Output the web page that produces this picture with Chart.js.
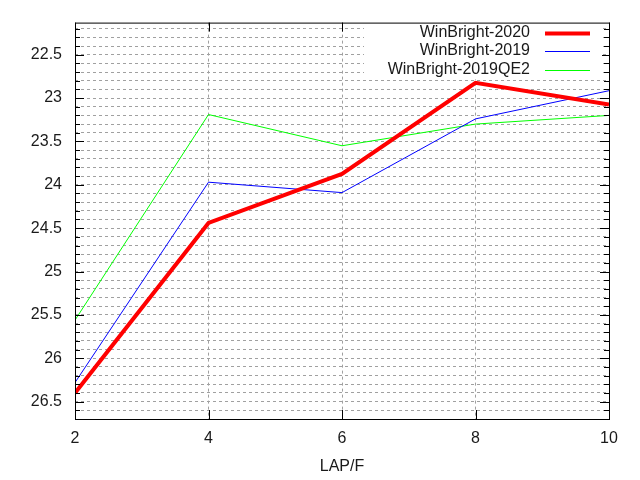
<!DOCTYPE html>
<html>
<head>
<meta charset="utf-8">
<script src="https://cdn.jsdelivr.net/npm/chart.js@4/dist/chart.umd.min.js"></script>
<style>
  html, body { margin: 0; padding: 0; background: #fff; }
</style>
</head>
<body>
<canvas id="lapChart" width="640" height="480"></canvas>
<script>
var lapF = [2, 4, 6, 8, 10];
var wb2020 = [26.40, 24.44, 23.875, 22.825, 23.075];
var wb2019 = [26.28, 23.97, 24.09, 23.24, 22.915];
var wb2019QE2 = [25.56, 23.19, 23.55, 23.30, 23.20];
var yMinorTicks = [22.2, 22.3, 22.4, 22.5, 22.6, 22.7, 22.8, 22.9, 23, 23.1, 23.2, 23.3, 23.4, 23.5,
  23.6, 23.7, 23.8, 23.9, 24, 24.1, 24.2, 24.3, 24.4, 24.5, 24.6, 24.7, 24.8, 24.9, 25, 25.1, 25.2,
  25.3, 25.4, 25.5, 25.6, 25.7, 25.8, 25.9, 26, 26.1, 26.2, 26.3, 26.4, 26.5, 26.6];
var xTicks = [2, 4, 6, 8, 10];

function pts(ys) {
  return ys.map(function (y, i) { return { x: lapF[i], y: y }; });
}

Chart.defaults.font.family = '"Liberation Sans", Arial, sans-serif';
Chart.defaults.font.size = 16;
Chart.defaults.color = '#1a1a1a';

// gnuplot-like tick marks and key box inside the plot
var gnuplotBits = {
  id: 'gnuplotBits',
  afterDatasetsDraw: function (chart) {
    var ctx = chart.ctx, a = chart.chartArea;
    var ys = chart.scales.y, xs = chart.scales.x;
    ctx.save();
    ctx.strokeStyle = '#000';
    ctx.lineWidth = 1;
    yMinorTicks.forEach(function (v) {
      var p = Math.round(ys.getPixelForValue(v)) + 0.5;
      var major = Math.abs(v * 2 - Math.round(v * 2)) < 1e-6;
      var len = major ? 9 : 5;
      ctx.beginPath();
      ctx.moveTo(a.left, p); ctx.lineTo(a.left + len, p);
      ctx.moveTo(a.right, p); ctx.lineTo(a.right - len, p);
      ctx.stroke();
    });
    xTicks.forEach(function (v) {
      var p = Math.round(xs.getPixelForValue(v)) + 0.5;
      ctx.beginPath();
      ctx.moveTo(p, a.bottom); ctx.lineTo(p, a.bottom - 9);
      ctx.moveTo(p, a.top); ctx.lineTo(p, a.top + 9);
      ctx.stroke();
    });

    // key
    ctx.fillStyle = '#fff';
    ctx.fillRect(364, 21, 238, 58);
    var rows = [
      { t: 'WinBright-2020', c: '#ff0000', w: 4 },
      { t: 'WinBright-2019', c: '#0000ff', w: 1 },
      { t: 'WinBright-2019QE2', c: '#00ff00', w: 1 }
    ];
    ctx.font = '16px "Liberation Sans", Arial, sans-serif';
    ctx.textAlign = 'right';
    ctx.textBaseline = 'middle';
    rows.forEach(function (r, i) {
      var yy = 32.5 + i * 18.5;
      ctx.fillStyle = '#1a1a1a';
      ctx.fillText(r.t, 530, yy);
      ctx.strokeStyle = r.c;
      ctx.lineWidth = r.w;
      ctx.beginPath();
      ctx.moveTo(545, Math.round(yy) + 0.5);
      ctx.lineTo(590, Math.round(yy) + 0.5);
      ctx.stroke();
    });

    ctx.strokeStyle = '#000';
    ctx.lineWidth = 1;
    ctx.strokeRect(a.left + 0.5, a.top + 0.5, a.right - a.left, a.bottom - a.top);
    ctx.restore();
  }
};

var ctxL = document.getElementById('lapChart').getContext('2d');
var lapChart = new Chart(ctxL, {
  type: 'line',
  data: {
    datasets: [{
      label: 'WinBright-2020',
      data: pts(wb2020),
      borderColor: '#ff0000',
      borderWidth: 4,
      pointRadius: 0,
      tension: 0
    }, {
      label: 'WinBright-2019',
      data: pts(wb2019),
      borderColor: '#0000ff',
      borderWidth: 1,
      pointRadius: 0,
      tension: 0
    }, {
      label: 'WinBright-2019QE2',
      data: pts(wb2019QE2),
      borderColor: '#00ff00',
      borderWidth: 1,
      pointRadius: 0,
      tension: 0
    }]
  },
  options: {
    responsive: false,
    animation: false,
    layout: { padding: { top: 19, right: 31, left: 0, bottom: 0 } },
    plugins: {
      legend: { display: false },
      tooltip: { enabled: false }
    },
    scales: {
      x: {
        type: 'linear',
        min: 2,
        max: 10,
        afterBuildTicks: function (s) { s.ticks = xTicks.map(function (v) { return { value: v }; }); },
        afterFit: function (s) { s.height = 61; },
        border: { display: false, dash: [3, 3] },
        grid: {
          color: function (c) { return (c.tick.value === 2 || c.tick.value === 10) ? 'rgba(0,0,0,0)' : '#a0a0a0'; },
          lineWidth: 1,
          drawTicks: false
        },
        ticks: { padding: 10, maxRotation: 0 },
        title: { display: true, text: 'LAP/F', padding: { top: 0, bottom: 4 } }
      },
      y: {
        type: 'linear',
        reverse: true,
        min: 22.13,
        max: 26.70,
        afterBuildTicks: function (s) { s.ticks = yMinorTicks.map(function (v) { return { value: v }; }); },
        afterFit: function (s) { s.width = 75; },
        border: { display: false, dash: [3, 3] },
        grid: { color: '#a0a0a0', lineWidth: 1, drawTicks: false },
        ticks: {
          padding: 13,
          autoSkip: false,
          callback: function (v) {
            var r = Math.round(v * 10) / 10;
            return Math.abs(r * 2 - Math.round(r * 2)) < 1e-6 ? String(r) : '';
          }
        }
      }
    }
  },
  plugins: [gnuplotBits]
});
</script>
</body>
</html>
